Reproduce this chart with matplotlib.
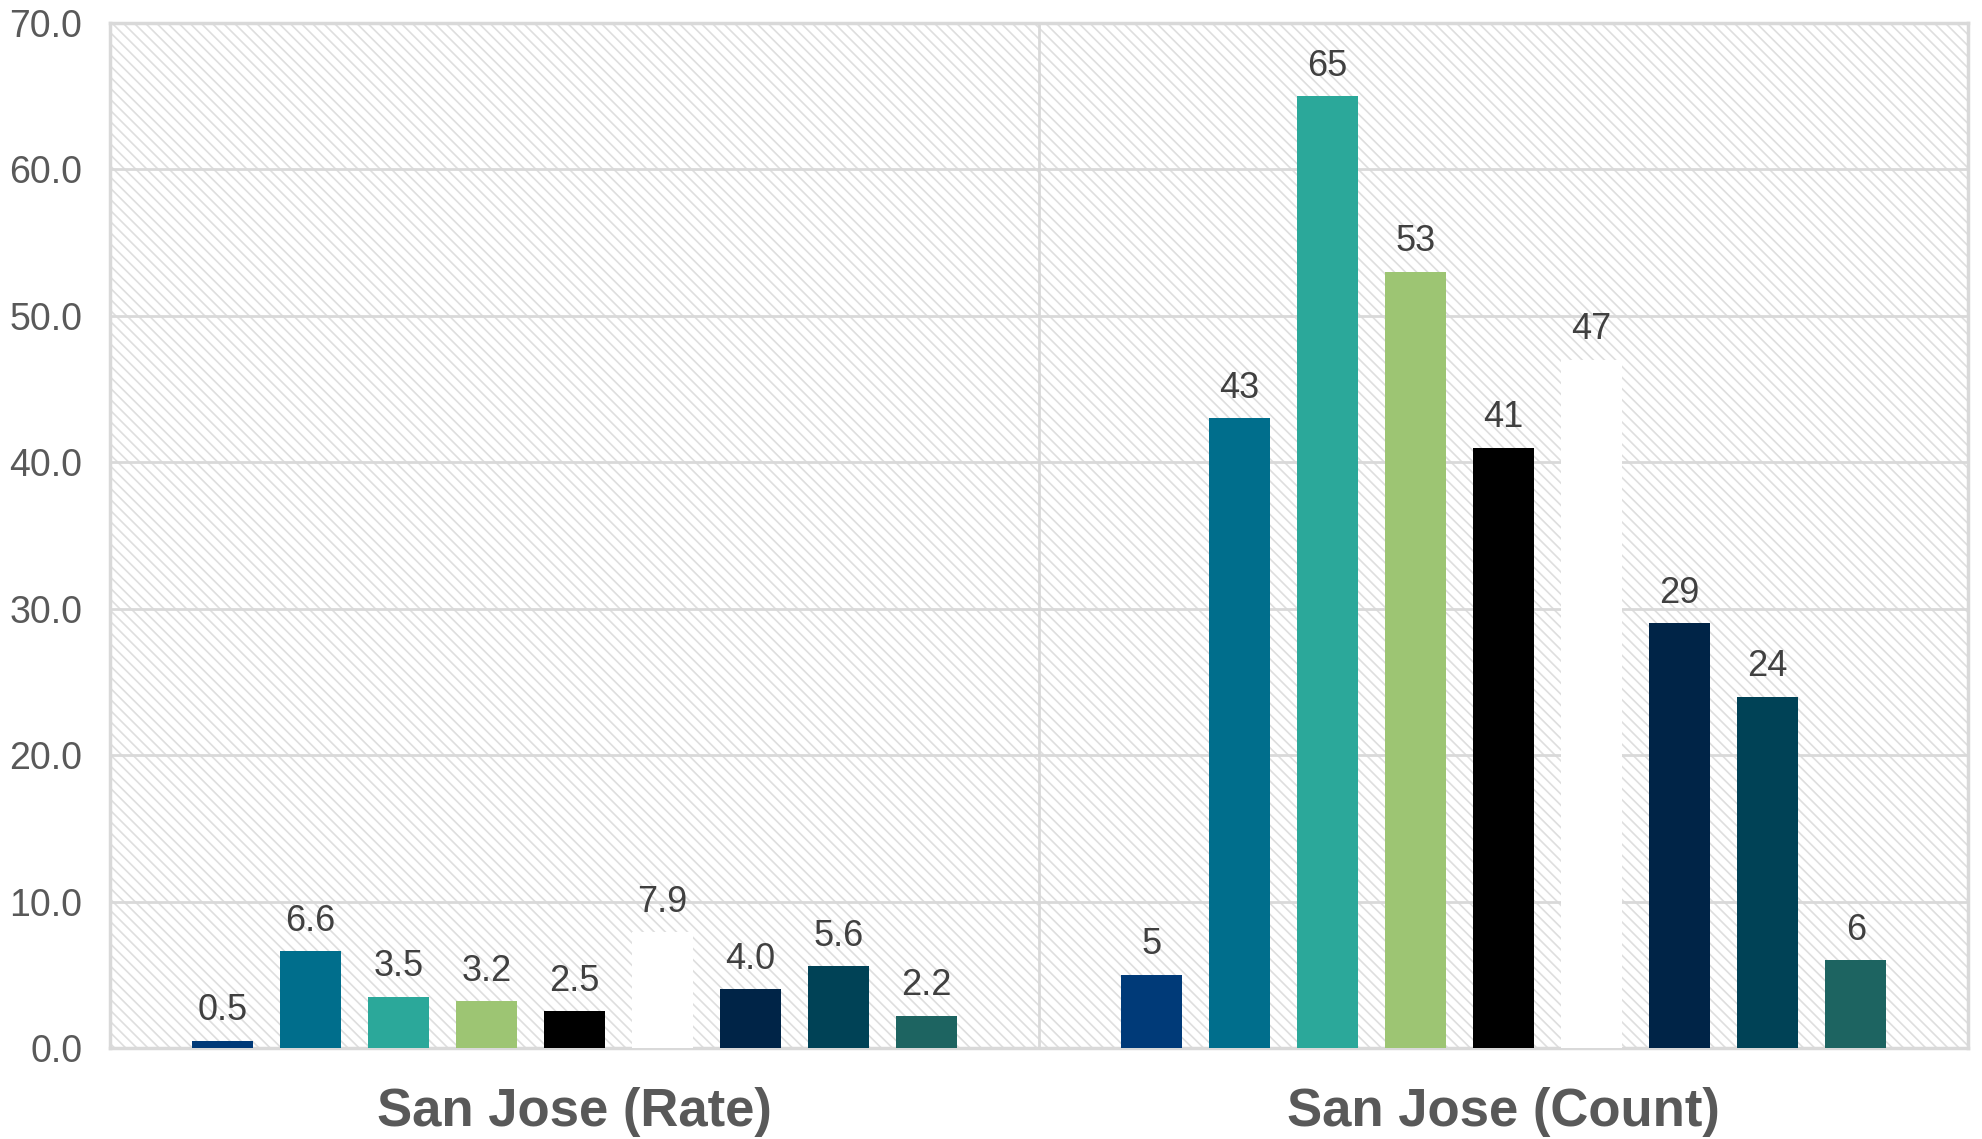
import matplotlib
matplotlib.use("Agg")
import matplotlib.pyplot as plt
from matplotlib.patches import Rectangle
import numpy as np

# data
categories = ["San Jose (Rate)", "San Jose (Count)"]
rate_values = [0.5, 6.6, 3.5, 3.2, 2.5, 7.9, 4.0, 5.6, 2.2]
count_values = [5, 43, 65, 53, 41, 47, 29, 24, 6]
rate_labels = ["0.5", "6.6", "3.5", "3.2", "2.5", "7.9", "4.0", "5.6", "2.2"]
count_labels = ["5", "43", "65", "53", "41", "47", "29", "24", "6"]
series_colors = ["#003A78", "#006E8C", "#2BA89A", "#9DC573", "#000000",
                 "#FFFFFF", "#002447", "#004256", "#1D6461"]
y_ticks = [0, 10, 20, 30, 40, 50, 60, 70]

plt.rcParams["font.family"] = ["Liberation Sans", "DejaVu Sans"]
plt.rcParams["hatch.linewidth"] = 1.2

W, H = 1982, 1139
fig = plt.figure(figsize=(W / 100, H / 100), dpi=100)
left, right, top, bottom = 110, 1968, 23, 1048
ax = fig.add_axes([left / W, 1 - bottom / H, (right - left) / W, (bottom - top) / H])

# hatched plot background
ax.patch.set_visible(False)
bg = Rectangle((0, 0), 1, 1, transform=ax.transAxes, facecolor="white",
               edgecolor="#DEDEDE", hatch="\\\\\\", linewidth=0, zorder=0)
ax.add_patch(bg)

n = len(rate_values)
step = 0.0948
width = 0.0654
offsets = (np.arange(n) - (n - 1) / 2) * step

for i in range(n):
    vals = [rate_values[i], count_values[i]]
    labs = [rate_labels[i], count_labels[i]]
    xs = np.arange(len(categories)) + offsets[i]
    ax.bar(xs, vals, width=width, color=series_colors[i], zorder=3)
    for x, v, t in zip(xs, vals, labs):
        ax.annotate(t, (x, v), xytext=(0, 9), textcoords="offset points",
                    ha="center", va="bottom", fontsize=26, color="#404040", zorder=4)

ax.set_xlim(-0.5, 1.5)
ax.set_ylim(0, 70)
ax.set_yticks(y_ticks)
ax.set_yticklabels([f"{t:.1f}" for t in y_ticks])
ax.set_xticks([0, 1])
ax.set_xticklabels(categories, fontsize=38, fontweight="bold", color="#595959")
ax.tick_params(axis="y", length=0, labelsize=27, labelcolor="#595959", pad=20)
ax.tick_params(axis="x", length=0, pad=28)

ax.grid(axis="y", color="#D9D9D9", linewidth=2, zorder=1)
ax.axvline(0.5, color="#D9D9D9", linewidth=2, zorder=1)
for s in ax.spines.values():
    s.set_color("#D9D9D9")
    s.set_linewidth(2.5)

fig.savefig("out.png", dpi=100)
